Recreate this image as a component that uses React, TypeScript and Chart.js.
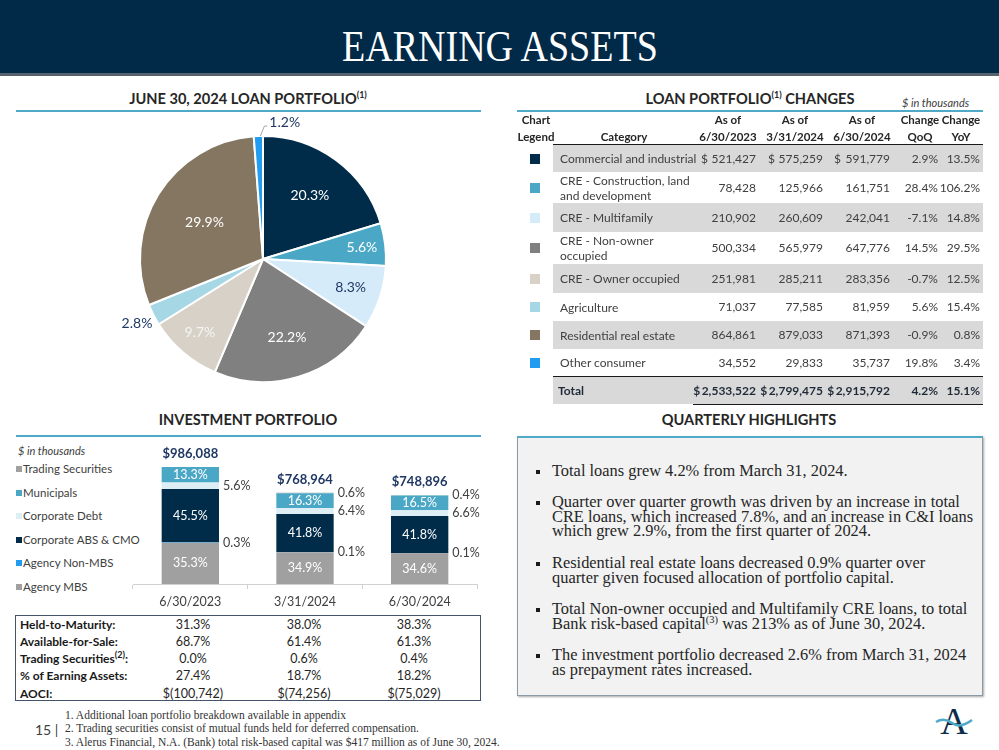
import React, { useEffect, useRef } from "react";
import { Chart, registerables } from "chart.js";
Chart.register(...registerables);

const SANS = "Lato, 'Open Sans', Arial, sans-serif";
const SERIF = "'Liberation Serif', 'Times New Roman', serif";

// ---------------- Loan portfolio data ----------------
const loanCategories = [
  "Commercial and industrial",
  "CRE - Construction, land\nand development",
  "CRE - Multifamily",
  "CRE - Non-owner\noccupied",
  "CRE - Owner occupied",
  "Agriculture",
  "Residential real estate",
  "Other consumer",
];
const loansJun2023 = [521427, 78428, 210902, 500334, 251981, 71037, 864861, 34552];
const loansMar2024 = [575259, 125966, 260609, 565979, 285211, 77585, 879033, 29833];
const loansJun2024 = [591779, 161751, 242041, 647776, 283356, 81959, 871393, 35737];
const loanChangeQoQ = [2.9, 28.4, -7.1, 14.5, -0.7, 5.6, -0.9, 19.8];
const loanChangeYoY = [13.5, 106.2, 14.8, 29.5, 12.5, 15.4, 0.8, 3.4];
const loanTotals = [2533522, 2799475, 2915792];
const loanTotalQoQ = 4.2;
const loanTotalYoY = 15.1;
const loanPiePercents = [20.3, 5.6, 8.3, 22.2, 9.7, 2.8, 29.9, 1.2];

// ---------------- Investment portfolio data ----------------
const invDates = ["6/30/2023", "3/31/2024", "6/30/2024"];
const invTotals = [986088, 768964, 748896];
const invSeriesNames = ["Agency MBS", "Agency Non-MBS", "Corporate ABS & CMO", "Corporate Debt", "Municipals", "Trading Securities"];
const agencyMBS = [35.3, 34.9, 34.6];
const agencyNonMBS = [0.3, 0.1, 0.1];
const corporateABS = [45.5, 41.8, 41.8];
const corporateDebt = [5.6, 6.4, 6.6];
const municipals = [13.3, 16.3, 16.5];
const tradingSecurities = [0.0, 0.6, 0.4];
const invSeriesPcts = [agencyMBS, agencyNonMBS, corporateABS, corporateDebt, municipals, tradingSecurities];

const invRowLabels = ["Held-to-Maturity:", "Available-for-Sale:", "Trading Securities", "% of Earning Assets:", "AOCI:"];
const heldToMaturity = ["31.3%", "38.0%", "38.3%"];
const availableForSale = ["68.7%", "61.4%", "61.3%"];
const tradingPct = ["0.0%", "0.6%", "0.4%"];
const pctEarningAssets = ["27.4%", "18.7%", "18.2%"];
const aoci = ["$(100,742)", "$(74,256)", "$(75,029)"];
const invRows = [heldToMaturity, availableForSale, tradingPct, pctEarningAssets, aoci];

const highlights = [
  ["Total loans grew 4.2% from March 31, 2024."],
  ["Quarter over quarter growth was driven by an increase in total", "CRE loans, which increased 7.8%, and an increase in C&I loans", "which grew 2.9%, from the first quarter of 2024."],
  ["Residential real estate loans decreased 0.9% quarter over", "quarter given focused allocation of portfolio capital."],
  ["Total Non-owner occupied and Multifamily CRE loans, to total", "Bank risk-based capital|(3)| was 213% as of June 30, 2024."],
  ["The investment portfolio decreased 2.6% from March 31, 2024", "as prepayment rates increased."],
];
const footnotes = [
  "1. Additional loan portfolio breakdown available in appendix",
  "2. Trading securities consist of mutual funds held for deferred compensation.",
  "3. Alerus Financial, N.A. (Bank) total risk-based capital was $417 million as of June 30, 2024.",
];

// ---------------- Styles ----------------
const loanColors = ["#002b49", "#4aa8c6", "#d6ebfa", "#808080", "#d7d1c8", "#a6d7e5", "#857661", "#229cf0"];
const pieLabelColors = ["#ffffff", "#ffffff", "#1f3864", "#ffffff", "#f4f4f4", "#1f3864", "#ffffff", "#1f3864"];
const pieLabelDist = [0.64, 0.81, 0.75, 0.67, 0.79, 1.15, 0.56, 1.0];
const pieLabelLeader = [false, false, false, false, false, false, false, true];
const invColors = ["#a0a0a0", "#229cf0", "#002b49", "#ddeef5", "#4aa8c6", "#a0a0a0"];
const invLabelInside = [true, false, true, false, true, false];
const TEAL = "#4fa9c7";
const NAVY = "#002a48";

const fmt = (n: number) => n.toLocaleString("en-US");
const pct = (n: number) => n.toFixed(1) + "%";

// ---------------- Helpers ----------------
function T({ x, y, align = "left", lh = 16, children, style }: any) {
  const W = 600;
  let left = x;
  if (align === "center") left = x - W / 2;
  if (align === "right") left = x - W;
  return (
    <div
      style={{
        position: "absolute",
        left,
        top: y - lh / 2,
        width: W,
        lineHeight: lh + "px",
        textAlign: align,
        whiteSpace: "nowrap",
        ...style,
      }}
    >
      {children}
    </div>
  );
}

// ---------------- Pie chart ----------------
const pieLabelPlugin = {
  id: "pieLabels",
  afterDatasetsDraw(chart: any) {
    const ctx = chart.ctx;
    const meta = chart.getDatasetMeta(0);
    ctx.save();
    ctx.font = `14px ${SANS}`;
    ctx.textBaseline = "middle";
    meta.data.forEach((arc: any, i: number) => {
      const p = arc.getProps(["x", "y", "startAngle", "endAngle", "outerRadius"], true);
      const mid = (p.startAngle + p.endAngle) / 2;
      const text = pct(loanPiePercents[i]);
      ctx.fillStyle = pieLabelColors[i];
      if (pieLabelLeader[i]) {
        const x0 = p.x + Math.cos(mid) * p.outerRadius;
        const y0 = p.y + Math.sin(mid) * p.outerRadius;
        const x1 = x0 + 6;
        const y1 = y0 - 10;
        ctx.strokeStyle = "#a6a6a6";
        ctx.lineWidth = 1;
        ctx.beginPath();
        ctx.moveTo(x0 + 2, y0);
        ctx.lineTo(x1, y1);
        ctx.lineTo(x1 + 3, y1);
        ctx.stroke();
        ctx.textAlign = "left";
        ctx.fillText(text, x1 + 5, y1 - 4);
      } else {
        const d = p.outerRadius * pieLabelDist[i];
        ctx.textAlign = "center";
        ctx.fillText(text, p.x + Math.cos(mid) * d, p.y + Math.sin(mid) * d);
      }
    });
    ctx.restore();
  },
};

function LoanPie() {
  const ref = useRef<HTMLCanvasElement>(null);
  useEffect(() => {
    const chart = new Chart(ref.current!, {
      type: "pie",
      data: {
        labels: loanCategories.map((c) => c.replace("\n", " ")),
        datasets: [
          {
            data: loanPiePercents,
            backgroundColor: loanColors,
            borderColor: "#ffffff",
            borderWidth: 2,
          },
        ],
      },
      options: {
        responsive: false,
        animation: false,
        layout: { padding: { left: 123, right: 99, top: 19, bottom: 13 } },
        plugins: { legend: { display: false }, tooltip: { enabled: false } },
      },
      plugins: [pieLabelPlugin],
    } as any);
    return () => chart.destroy();
  }, []);
  return <canvas ref={ref} width={470} height={280} style={{ position: "absolute", left: 16, top: 116 }} />;
}

// ---------------- Investment bar chart ----------------
const barLabelPlugin = {
  id: "barLabels",
  afterDatasetsDraw(chart: any) {
    const ctx = chart.ctx;
    ctx.save();
    ctx.textBaseline = "middle";
    invSeriesPcts.forEach((vals, di) => {
      const meta = chart.getDatasetMeta(di);
      meta.data.forEach((bar: any, j: number) => {
        const v = vals[j];
        if (v === 0) return;
        const p = bar.getProps(["x", "y", "base", "width"], true);
        const cy = (p.y + p.base) / 2;
        ctx.font = `12.5px ${SANS}`;
        if (invLabelInside[di]) {
          ctx.fillStyle = "#ffffff";
          ctx.textAlign = "center";
          ctx.fillText(pct(v), p.x, cy);
        } else {
          ctx.fillStyle = "#404040";
          ctx.textAlign = "left";
          ctx.fillText(pct(v), p.x + p.width / 2 + 4, cy);
        }
      });
    });
    const yScale = chart.scales.y;
    const xScale = chart.scales.x;
    ctx.font = `bold 13px ${SANS}`;
    ctx.fillStyle = "#1f3864";
    ctx.textAlign = "center";
    invTotals.forEach((t, j) => {
      ctx.fillText("$" + fmt(t), xScale.getPixelForValue(j), yScale.getPixelForValue(t) - 13);
    });
    ctx.restore();
  },
};

function InvestmentBars() {
  const ref = useRef<HTMLCanvasElement>(null);
  useEffect(() => {
    const chart = new Chart(ref.current!, {
      type: "bar",
      data: {
        labels: invDates,
        datasets: invSeriesNames.map((name, i) => ({
          label: name,
          data: invSeriesPcts[i].map((p, j) => (invTotals[j] * p) / 100),
          backgroundColor: invColors[i],
          borderWidth: 0,
          barPercentage: 0.5,
          categoryPercentage: 1.0,
        })),
      },
      options: {
        responsive: false,
        animation: false,
        layout: { padding: { left: 13, right: 13, top: 27, bottom: 1 } },
        plugins: { legend: { display: false }, tooltip: { enabled: false } },
        scales: {
          x: {
            stacked: true,
            offset: true,
            grid: { offset: true, drawOnChartArea: false, drawTicks: true, tickLength: 5, color: "#d0d0d0" },
            border: { color: "#d0d0d0" },
            ticks: { color: "#404040", font: { family: SANS, size: 12.5 }, padding: 5 },
            afterFit: (s: any) => {
              s.height = 30;
            },
          },
          y: { stacked: true, display: false, min: 0, max: Math.max(...invTotals) },
        },
      },
      plugins: [barLabelPlugin],
    } as any);
    return () => chart.destroy();
  }, []);
  return <canvas ref={ref} width={370} height={175} style={{ position: "absolute", left: 120, top: 440 }} />;
}

// ---------------- Loan table ----------------
const rowBounds = [145, 172, 203, 232, 264, 293, 321, 349, 376];
const colRight = [756, 823, 890, 938, 980];
const dollarLeft = [701, 768, 834];

function LoanTable() {
  const txt = { fontFamily: SANS, fontSize: 12, color: "#404040" };
  const hdr = { fontFamily: SANS, fontSize: 11.5, fontWeight: 700, color: "#262626" };
  const els: any[] = [];
  // header
  els.push(<T key="h1" x={536} y={119} align="center" lh={17} style={hdr}>Chart</T>);
  els.push(<T key="h2" x={536} y={136} align="center" lh={17} style={hdr}>Legend</T>);
  els.push(<T key="h3" x={624} y={136} align="center" lh={17} style={hdr}>Category</T>);
  const dateHdr = ["6/30/2023", "3/31/2024", "6/30/2024"];
  const dateCtr = [728, 795, 862];
  dateHdr.forEach((d, i) => {
    els.push(<T key={"ha" + i} x={dateCtr[i]} y={119} align="center" lh={17} style={hdr}>As of</T>);
    els.push(<T key={"hb" + i} x={dateCtr[i]} y={136} align="center" lh={17} style={hdr}>{d}</T>);
  });
  els.push(<T key="hq1" x={920} y={119} align="center" lh={17} style={hdr}>Change</T>);
  els.push(<T key="hq2" x={920} y={136} align="center" lh={17} style={hdr}>QoQ</T>);
  els.push(<T key="hy1" x={961} y={119} align="center" lh={17} style={hdr}>Change</T>);
  els.push(<T key="hy2" x={961} y={136} align="center" lh={17} style={hdr}>YoY</T>);
  els.push(<div key="hl" style={{ position: "absolute", left: 553, top: 143.5, width: 430, height: 1.5, background: "#1a1a1a" }} />);

  loanCategories.forEach((cat, i) => {
    const top = rowBounds[i];
    const bottom = rowBounds[i + 1];
    const cy = (top + bottom) / 2;
    if (i % 2 === 0)
      els.push(<div key={"bg" + i} style={{ position: "absolute", left: 553, top, width: 430, height: bottom - top, background: "#d9d9d9" }} />);
    els.push(<div key={"sq" + i} style={{ position: "absolute", left: 530, top: cy - 5, width: 10, height: 10, background: loanColors[i] }} />);
    const lines = cat.split("\n");
    els.push(
      <div key={"c" + i} style={{ position: "absolute", left: 560, top: cy - (lines.length * 15) / 2, lineHeight: "15px", whiteSpace: "nowrap", ...txt }}>
        {lines.map((l, k) => (
          <div key={k}>{l}</div>
        ))}
      </div>
    );
    const vals = [fmt(loansJun2023[i]), fmt(loansMar2024[i]), fmt(loansJun2024[i]), pct(loanChangeQoQ[i]), pct(loanChangeYoY[i])];
    vals.forEach((v, k) => {
      els.push(<T key={"v" + i + "_" + k} x={colRight[k]} y={cy} align="right" style={txt}>{v}</T>);
    });
    if (i === 0)
      dollarLeft.forEach((x, k) => {
        els.push(<T key={"d" + k} x={x} y={cy} style={txt}>$</T>);
      });
  });
  // total row
  els.push(<div key="tl" style={{ position: "absolute", left: 553, top: 375.5, width: 430, height: 1.5, background: "#1a1a1a" }} />);
  els.push(<div key="tbg" style={{ position: "absolute", left: 553, top: 377, width: 430, height: 27, background: "#d9d9d9" }} />);
  const tot = { ...txt, fontWeight: 700, color: "#1f2a38" };
  els.push(<T key="tt" x={558} y={390.5} style={tot}>Total</T>);
  const tvals = [...loanTotals.map((t) => "$\u2009" + fmt(t)), pct(loanTotalQoQ), pct(loanTotalYoY)];
  tvals.forEach((v, k) => {
    els.push(<T key={"tv" + k} x={colRight[k]} y={390.5} align="right" style={tot}>{v}</T>);
  });
  els.push(<div key="bl" style={{ position: "absolute", left: 693, top: 403.5, width: 290, height: 1.5, background: "#1a1a1a" }} />);
  return <>{els}</>;
}

// ---------------- App ----------------
export default function App() {
  const heading = { fontFamily: SANS, fontSize: 14.6, fontWeight: 700, color: "#262626" };
  const sup = { fontSize: 9, verticalAlign: "super", lineHeight: 0 } as any;
  return (
    <div style={{ position: "relative", width: 999, height: 750, background: "#ffffff", overflow: "hidden" }}>
      <style>{"body{margin:0}"}</style>
      {/* Header */}
      <div style={{ position: "absolute", left: 0, top: 0, width: 999, height: 73, background: NAVY }} />
      <div style={{ position: "absolute", left: 0, top: 73, width: 999, height: 3, background: "#56636d" }} />
      <div style={{ position: "absolute", left: 0, top: 24, width: 999, textAlign: "center", lineHeight: "45px" }}>
        <span style={{ display: "inline-block", fontFamily: SERIF, fontSize: 45, color: "#ffffff", transform: "scaleX(0.845)" }}>EARNING ASSETS</span>
      </div>

      {/* Loan portfolio pie */}
      <T x={248} y={99} align="center" lh={18} style={heading}>
        JUNE 30, 2024 LOAN PORTFOLIO<span style={sup}>(1)</span>
      </T>
      <div style={{ position: "absolute", left: 16, top: 110, width: 465, height: 2, background: TEAL }} />
      <LoanPie />

      {/* Loan table */}
      <T x={750} y={99} align="center" lh={18} style={heading}>
        LOAN PORTFOLIO<span style={sup}>(1)</span> CHANGES
      </T>
      <T x={902} y={103} lh={14} style={{ fontFamily: SANS, fontSize: 11, fontStyle: "italic", color: "#404040" }}>
        $ in thousands
      </T>
      <div style={{ position: "absolute", left: 517, top: 110, width: 466, height: 2, background: TEAL }} />
      <LoanTable />

      {/* Investment portfolio */}
      <T x={248} y={420} align="center" lh={18} style={heading}>
        INVESTMENT PORTFOLIO
      </T>
      <div style={{ position: "absolute", left: 16, top: 435, width: 465, height: 2, background: TEAL }} />
      <T x={18} y={451} lh={14} style={{ fontFamily: SANS, fontSize: 11, fontStyle: "italic", color: "#404040" }}>
        $ in thousands
      </T>
      {invSeriesNames
        .slice()
        .reverse()
        .map((name, k) => {
          const idx = invSeriesNames.length - 1 - k;
          const cy = 469 + k * 23.5;
          return (
            <React.Fragment key={name}>
              <div style={{ position: "absolute", left: 16, top: cy - 3, width: 6, height: 6, background: invColors[idx] }} />
              <T x={23} y={cy} lh={16} style={{ fontFamily: SANS, fontSize: 11.5, color: "#404040" }}>
                {name}
              </T>
            </React.Fragment>
          );
        })}
      <InvestmentBars />

      {/* Investment table */}
      <div style={{ position: "absolute", left: 15, top: 615, width: 464, height: 84, border: "1.5px solid #44546a" }} />
      {invRows.map((row, r) => {
        const cy = 624 + r * 17.3;
        return (
          <React.Fragment key={r}>
            <T x={20} y={cy} lh={17} style={{ fontFamily: SANS, fontSize: 12, fontWeight: 700, color: "#1a1a1a" }}>
              {invRowLabels[r]}
              {r === 2 ? (
                <>
                  <span style={sup}>(2)</span>:
                </>
              ) : null}
            </T>
            {row.map((v, c) => (
              <T key={c} x={[193, 304, 414][c]} y={cy} align="center" lh={17} style={{ fontFamily: SANS, fontSize: 12.5, color: "#262626" }}>
                {v}
              </T>
            ))}
          </React.Fragment>
        );
      })}

      {/* Quarterly highlights */}
      <T x={749} y={420} align="center" lh={18} style={heading}>
        QUARTERLY HIGHLIGHTS
      </T>
      <div
        style={{
          position: "absolute",
          left: 517,
          top: 436,
          width: 464,
          height: 257,
          background: "#f2f2f2",
          border: "1px solid #8c9aa6",
          borderTop: "2px solid " + TEAL,
          boxShadow: "1px 1px 2px rgba(0,0,0,0.35)",
        }}
      />
      {highlights.map((lines, i) => {
        const first = [472, 503, 564, 610, 656][i];
        return (
          <React.Fragment key={i}>
            <div style={{ position: "absolute", left: 535.5, top: first - 2, width: 4, height: 4, background: "#1a1a1a" }} />
            <div style={{ position: "absolute", left: 552, top: first - 8, lineHeight: "14.5px", fontFamily: SERIF, fontSize: 16.4, color: "#262626", whiteSpace: "nowrap" }}>
              {lines.map((l, k) => {
                const parts = l.split("|");
                return (
                  <div key={k}>
                    {parts.length === 3 ? (
                      <>
                        {parts[0]}
                        <span style={{ fontSize: 10.5, verticalAlign: "super", lineHeight: 0 }}>{parts[1]}</span>
                        {parts[2]}
                      </>
                    ) : (
                      l
                    )}
                  </div>
                );
              })}
            </div>
          </React.Fragment>
        );
      })}

      {/* Footer */}
      <T x={35} y={730} lh={16} style={{ fontFamily: SANS, fontSize: 14, color: "#404040" }}>
        15 |
      </T>
      {footnotes.map((f, i) => (
        <T key={i} x={65} y={715 + i * 13.5} lh={13} style={{ fontFamily: SERIF, fontSize: 11.5, color: "#333333" }}>
          {f}
        </T>
      ))}
      <svg style={{ position: "absolute", left: 932, top: 700 }} width={45} height={40}>
        <text x={22} y={34} textAnchor="middle" fontFamily={SERIF} fontSize={38} fill="#0d2c4a">
          A
        </text>
        <path d="M4 22 Q12 17 20 23 T40 20" stroke={TEAL} strokeWidth={2.5} fill="none" />
      </svg>
    </div>
  );
}
